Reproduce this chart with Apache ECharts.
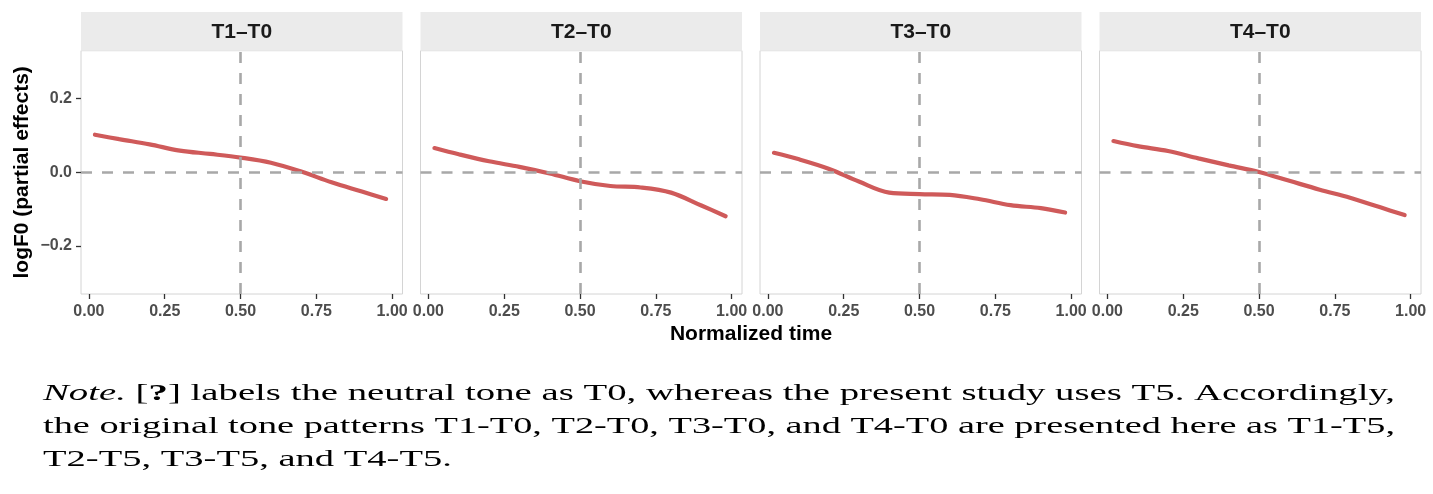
<!DOCTYPE html>
<html>
<head>
<meta charset="utf-8">
<script src="https://cdn.jsdelivr.net/npm/echarts@6/dist/echarts.min.js"></script>
<style>
  html, body { margin: 0; padding: 0; background: #fff; }
  #chart { width: 1433px; height: 494px; }
</style>
</head>
<body>
<div id="chart"></div>
<script>
// Data
const panelNames = ['T1–T0', 'T2–T0', 'T3–T0', 'T4–T0']
const time = [0.02, 0.1, 0.2, 0.3, 0.4, 0.5, 0.6, 0.7, 0.8, 0.9, 0.98]
const t1 = [0.102, 0.090, 0.076, 0.059, 0.050, 0.040, 0.026, 0.002, -0.027, -0.052, -0.072]
const t2 = [0.066, 0.049, 0.030, 0.015, -0.003, -0.024, -0.037, -0.041, -0.055, -0.090, -0.119]
const t3 = [0.053, 0.036, 0.010, -0.025, -0.055, -0.059, -0.061, -0.073, -0.089, -0.097, -0.109]
const t4 = [0.085, 0.071, 0.058, 0.038, 0.019, 0.001, -0.023, -0.047, -0.069, -0.095, -0.116]
const curves = [t1, t2, t3, t4]
const xTicks = [0, 0.25, 0.5, 0.75, 1]
const yTicks = [-0.2, 0, 0.2]

// Layout
const LEFT = 81
const STEP = 339.5
const W = 321.5
const TOP = 50.7
const H = 243.3
const STRIP_TOP = 12
const SANS = 'Liberation Sans'
const SERIF = 'Liberation Serif'
const NOTE_SIZE = 24

const grids = []
const xAxes = []
const yAxes = []
const series = []
const graphics = []

panelNames.forEach((name, i) => {
  const left = LEFT + i * STEP
  grids.push({
    left, top: TOP, width: W, height: H,
    show: true, borderColor: '#d4d4d4', borderWidth: 1, backgroundColor: '#fff',
  })
  xAxes.push({
    type: 'value', gridIndex: i, min: -0.026, max: 1.034, position: 'bottom',
    axisLine: { show: false, onZero: false },
    splitLine: { show: false },
    axisTick: { show: true, customValues: xTicks, length: 5, lineStyle: { color: '#333', width: 1.3 } },
    axisLabel: {
      customValues: xTicks, margin: 10,
      formatter: (v) => v.toFixed(2),
      color: '#4d4d4d', fontSize: 16, fontWeight: 'bold', fontFamily: SANS,
    },
  })
  yAxes.push({
    type: 'value', gridIndex: i, min: -0.33, max: 0.33, position: 'left',
    axisLine: { show: false, onZero: false },
    splitLine: { show: false },
    axisTick: { show: i === 0, customValues: yTicks, length: 5, lineStyle: { color: '#333', width: 1.3 } },
    axisLabel: {
      show: i === 0, customValues: yTicks, margin: 9,
      formatter: (v) => (v < 0 ? '−' : '') + Math.abs(v).toFixed(1),
      color: '#4d4d4d', fontSize: 16, fontWeight: 'bold', fontFamily: SANS,
    },
  })
  // reference lines underneath the curve
  series.push({
    type: 'line', xAxisIndex: i, yAxisIndex: i, data: [], z: 1,
    markLine: {
      silent: true, symbol: 'none', label: { show: false },
      lineStyle: { color: '#a8a8a8', width: 2.6, type: [11, 10] },
      data: [{ xAxis: 0.5 }, { yAxis: 0 }],
    },
  })
  series.push({
    type: 'line', xAxisIndex: i, yAxisIndex: i, z: 3,
    data: time.map((t, k) => [t, curves[i][k]]),
    smooth: 0.35, showSymbol: false,
    lineStyle: { color: '#cf5a5a', width: 4.2, cap: 'round' },
  })
  // facet strip
  graphics.push({
    type: 'rect', shape: { x: left, y: STRIP_TOP, width: W, height: TOP - STRIP_TOP },
    style: { fill: '#ebebeb' }, silent: true,
  })
  graphics.push({
    type: 'text', x: left + W / 2, y: 32, silent: true,
    style: { text: name, align: 'center', verticalAlign: 'middle', fill: '#1a1a1a',
      fontSize: 21, fontWeight: 'bold', fontFamily: SANS },
  })
})

// axis titles
graphics.push({
  type: 'text', x: (LEFT + LEFT + 3 * STEP + W) / 2, y: 334, silent: true,
  style: { text: 'Normalized time', align: 'center', verticalAlign: 'middle', fill: '#000',
    fontSize: 21, fontWeight: 'bold', fontFamily: SANS },
})
graphics.push({
  type: 'text', x: 22, y: TOP + H / 2, rotation: Math.PI / 2, silent: true,
  style: { text: 'logF0 (partial effects)', align: 'center', verticalAlign: 'middle', fill: '#000',
    fontSize: 21, fontWeight: 'bold', fontFamily: SANS },
})

// note below the figure
const noteLines = [
  [['i', 'Note.'], ['n', ' ['], ['b', '?'], ['n', '] labels the neutral tone as T0, whereas the present study uses T5. Accordingly,']],
  [['n', 'the original tone patterns T1-T0, T2-T0, T3-T0, and T4-T0 are presented here as T1-T5,']],
  [['n', 'T2-T5, T3-T5, and T4-T5.']],
]
const richFonts = {
  n: { fontStyle: 'normal', fontWeight: 'normal' },
  i: { fontStyle: 'italic', fontWeight: 'normal' },
  b: { fontStyle: 'normal', fontWeight: 'bold' },
}
const ctx = document.createElement('canvas').getContext('2d')
const measure = (segs) => segs.reduce((s, [k, t]) => {
  ctx.font = `${richFonts[k].fontStyle} ${richFonts[k].fontWeight} ${NOTE_SIZE}px "${SERIF}"`
  return s + ctx.measureText(t).width
}, 0)
const rich = {}
Object.keys(richFonts).forEach((k) => {
  rich[k] = Object.assign({ fontSize: NOTE_SIZE, fontFamily: SERIF, fill: '#000' }, richFonts[k])
})
const NOTE_X = 43
const NOTE_W = 1352
const scales = noteLines.map((segs) => NOTE_W / measure(segs))
scales[2] = (scales[0] + scales[1]) / 2
noteLines.forEach((segs, j) => {
  graphics.push({
    type: 'text', x: NOTE_X, y: 394 + j * 33, scaleX: scales[j], silent: true,
    style: {
      text: segs.map(([k, t]) => `{${k}|${t}}`).join(''),
      rich, align: 'left', verticalAlign: 'middle',
      fontSize: NOTE_SIZE, fontFamily: SERIF, fill: '#000',
    },
  })
})

const chart = echarts.init(document.getElementById('chart'), null, { renderer: 'canvas' })
chart.setOption({
  animation: false,
  grid: grids,
  xAxis: xAxes,
  yAxis: yAxes,
  series,
  graphic: graphics,
})
</script>
</body>
</html>
